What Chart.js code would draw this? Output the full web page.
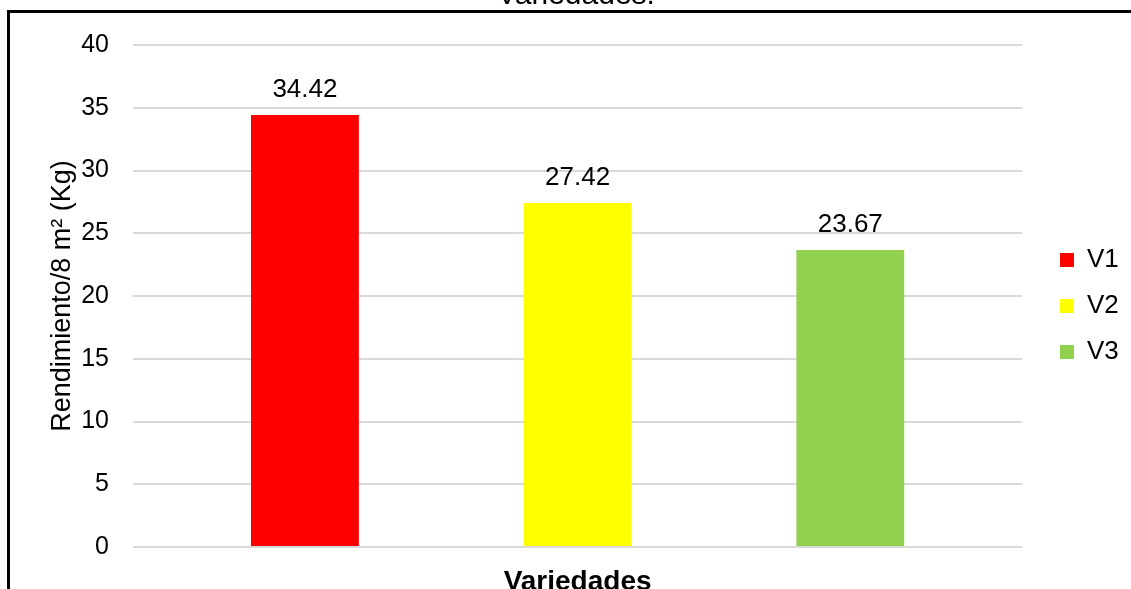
<!DOCTYPE html>
<html>
<head>
<meta charset="utf-8">
<script src="https://cdn.jsdelivr.net/npm/chart.js@4.4.1/dist/chart.umd.min.js"></script>
<style>
  html, body { margin: 0; padding: 0; background: #ffffff; }
  #wrap { width: 1131px; height: 589px; position: relative; }
</style>
</head>
<body>
<div id="wrap"><canvas id="chart"></canvas></div>
<script>
// Rendimiento por variedad (kg en 8 m²)
const categories = ['Variedades'];
const seriesNames = ['V1', 'V2', 'V3'];
const seriesValues = [34.42, 27.42, 23.67];
const seriesColors = ['#FF0000', '#FFFF00', '#92D050'];
const yTicks = [0, 5, 10, 15, 20, 25, 30, 35, 40];

const FONT = "'Liberation Sans', Arial, sans-serif";

// Value labels above each bar
const valueLabels = {
  id: 'valueLabels',
  afterDatasetsDraw(chart) {
    const ctx = chart.ctx;
    ctx.save();
    ctx.font = '26px ' + FONT;
    ctx.fillStyle = '#000000';
    ctx.textAlign = 'center';
    ctx.textBaseline = 'middle';
    chart.data.datasets.forEach((ds, i) => {
      const meta = chart.getDatasetMeta(i);
      meta.data.forEach((bar, j) => {
        ctx.fillText(ds.data[j].toFixed(2), bar.x, bar.y - 25);
      });
    });
    ctx.restore();
  }
};

// Place the legend column next to the plot, vertically around its middle
const legendPlacement = {
  id: 'legendPlacement',
  afterLayout(chart) {
    const lg = chart.legend;
    if (!lg) return;
    const w = lg.width;
    lg.left = 1040;
    lg.right = lg.left + w;
    lg.top = 23;
    lg.bottom = 589;
    lg.height = lg.bottom - lg.top;
  }
};

// Outer frame and the heading above it
const frame = {
  id: 'frame',
  afterDraw(chart) {
    const ctx = chart.ctx;
    ctx.save();
    ctx.strokeStyle = '#000000';
    ctx.lineWidth = 3;
    ctx.beginPath();
    ctx.moveTo(8.5, chart.height);
    ctx.lineTo(8.5, 11.5);
    ctx.lineTo(chart.width, 11.5);
    ctx.stroke();
    ctx.font = '30px ' + FONT;
    ctx.fillStyle = '#000000';
    ctx.textAlign = 'center';
    ctx.textBaseline = 'alphabetic';
    ctx.fillText('Variedades.', 576, 3.5);
    ctx.restore();
  }
};

new Chart(document.getElementById('chart'), {
  type: 'bar',
  data: {
    labels: categories,
    datasets: seriesNames.map((name, i) => ({
      label: name,
      data: [seriesValues[i]],
      backgroundColor: seriesColors[i],
      borderWidth: 0,
      categoryPercentage: 0.92,
      barPercentage: 0.3956
    }))
  },
  options: {
    responsive: true,
    maintainAspectRatio: false,
    animation: false,
    layout: { padding: { top: 45, left: 0, right: 0, bottom: 0 } },
    plugins: {
      title: { display: false },
      tooltip: { enabled: false },
      legend: {
        display: true,
        position: 'right',
        align: 'center',
        labels: {
          boxWidth: 14,
          boxHeight: 14,
          padding: 20,
          color: '#000000',
          font: { family: FONT, size: 26 }
        }
      }
    },
    scales: {
      x: {
        grid: { display: false },
        border: { display: false },
        ticks: { display: false },
        title: {
          display: true,
          text: 'Variedades',
          color: '#000000',
          font: { family: FONT, size: 28, weight: 'bold', lineHeight: 1.2 },
          padding: { top: 0, bottom: -10 }
        },
        afterFit(scale) { scale.height = 42; }
      },
      y: {
        min: 0,
        max: 40,
        afterBuildTicks(scale) { scale.ticks = yTicks.map(v => ({ value: v })); },
        grid: { color: '#D9D9D9', lineWidth: 2, drawTicks: false },
        border: { display: false },
        ticks: {
          padding: 24,
          color: '#000000',
          font: { family: FONT, size: 25 }
        },
        title: {
          display: true,
          text: 'Rendimiento/8 m² (Kg)',
          color: '#000000',
          font: { family: FONT, size: 27, lineHeight: 1.2 },
          padding: { top: 46, bottom: 0 }
        },
        afterFit(scale) { scale.width = 133; }
      },
      gap: {
        type: 'linear',
        position: 'right',
        display: true,
        grid: { display: false },
        border: { display: false },
        ticks: { display: false },
        afterFit(scale) { scale.width = 20; }
      }
    }
  },
  plugins: [valueLabels, legendPlacement, frame]
});
</script>
</body>
</html>
